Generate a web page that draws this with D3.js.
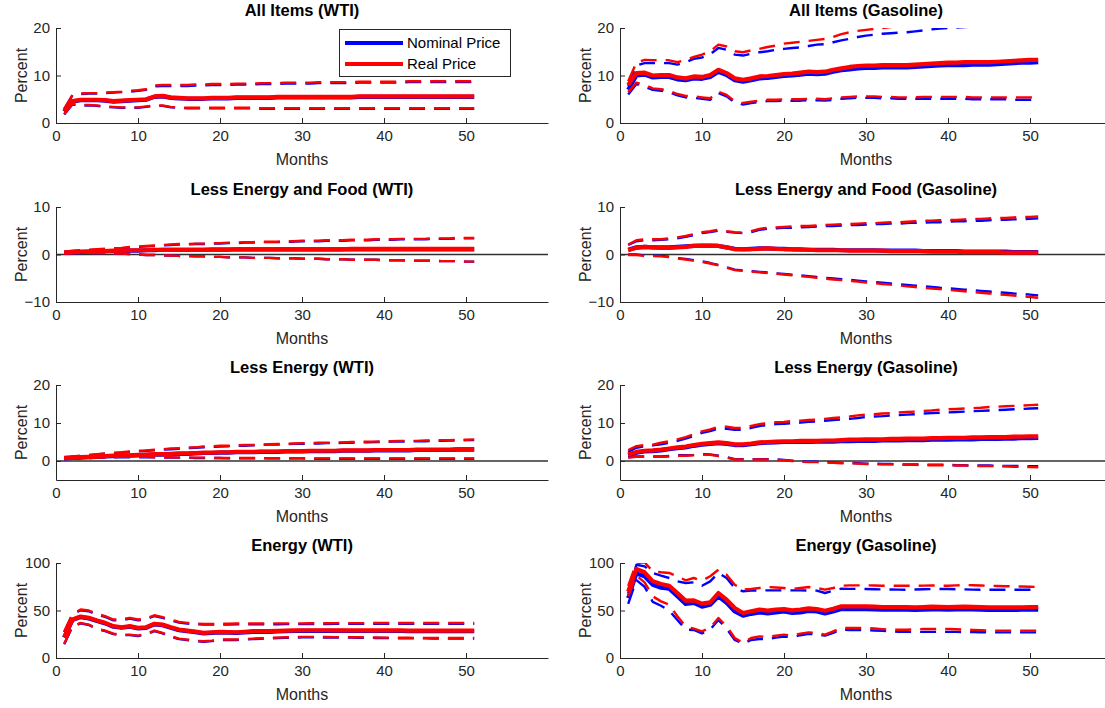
<!DOCTYPE html>
<html>
<head>
<meta charset="utf-8">
<script src="https://cdn.jsdelivr.net/npm/d3@7"></script>
<style>
  html, body { margin: 0; padding: 0; background: #fff; }
  svg { display: block; font-family: "Liberation Sans", Arial, Helvetica, sans-serif; }
</style>
</head>
<body>
<svg id="chart" width="1105" height="708"></svg>
<script>
// Horizon in months (impulse responses run from month 1 to 51)
const months = d3.range(1, 52);
const xTicks = [0, 10, 20, 30, 40, 50];

// ---- All Items (WTI) ----
const aiWtiNomMid = [2.4,4.5,4.8,4.8,4.8,4.7,4.5,4.6,4.7,4.8, 4.9,5.5,5.6,5.3,5.2,5.1,5.1,5.1,5.2,5.2, 5.2,5.3,5.3,5.3,5.3,5.3,5.4,5.4,5.4,5.4, 5.4,5.4,5.4,5.4,5.4,5.4,5.5,5.5,5.5,5.5, 5.5,5.5,5.5,5.5,5.5,5.5,5.5,5.5,5.5,5.5,5.5];
const aiWtiNomLo  = [1.8,3.9,3.7,3.7,3.6,3.4,3.3,3.2,3.2,3.2, 3.4,3.6,3.6,3.3,3.2,3.1,3.1,3.1,3.1,3.1, 3.1,3.1,3.1,3.1,3.0,3.0,3.0,3.0,3.0,3.0, 3.0,3.0,3.0,3.0,3.0,3.0,3.0,3.0,3.0,3.0, 3.0,3.0,3.0,3.0,3.0,3.0,3.0,3.0,3.0,3.0,3.0];
const aiWtiNomHi  = [2.9,5.8,6.1,6.2,6.2,6.3,6.4,6.5,6.6,6.8, 7.0,7.7,7.8,7.8,7.8,7.8,7.9,7.9,8.0,8.0, 8.0,8.1,8.1,8.1,8.2,8.2,8.2,8.3,8.3,8.3, 8.3,8.4,8.4,8.4,8.4,8.4,8.5,8.5,8.5,8.5, 8.5,8.5,8.6,8.6,8.6,8.6,8.6,8.6,8.6,8.6,8.6];
const aiWtiRealMid = [2.5,4.6,4.9,4.9,4.9,4.8,4.6,4.7,4.8,4.9, 5.0,5.6,5.7,5.4,5.3,5.2,5.2,5.2,5.3,5.3, 5.3,5.4,5.4,5.4,5.4,5.4,5.5,5.5,5.5,5.5, 5.5,5.5,5.5,5.5,5.5,5.5,5.6,5.6,5.6,5.6, 5.6,5.6,5.6,5.6,5.6,5.6,5.6,5.6,5.6,5.6,5.6];
const aiWtiRealLo  = [1.9,4.0,3.8,3.8,3.7,3.5,3.4,3.3,3.3,3.3, 3.5,3.7,3.7,3.4,3.3,3.2,3.2,3.2,3.2,3.2, 3.2,3.2,3.2,3.2,3.1,3.1,3.1,3.1,3.1,3.1, 3.1,3.1,3.1,3.1,3.1,3.1,3.1,3.1,3.1,3.1, 3.1,3.1,3.1,3.1,3.1,3.1,3.1,3.1,3.1,3.1,3.1];
const aiWtiRealHi  = [3.0,5.9,6.2,6.3,6.3,6.4,6.5,6.6,6.8,6.9, 7.1,7.9,8.0,8.0,8.0,8.0,8.1,8.1,8.2,8.2, 8.2,8.3,8.3,8.3,8.4,8.4,8.4,8.5,8.5,8.5, 8.5,8.6,8.6,8.6,8.6,8.6,8.7,8.7,8.7,8.7, 8.7,8.7,8.8,8.8,8.8,8.8,8.8,8.8,8.8,8.8,8.8];

// ---- All Items (Gasoline) ----
const aiGasNomMid = [7.0,10.0,10.2,9.6,9.7,9.7,9.2,9.0,9.4,9.3, 9.7,10.8,10.1,9.0,8.7,9.0,9.4,9.5,9.7,9.9, 10.0,10.2,10.4,10.3,10.4,10.8,11.1,11.3,11.5,11.6, 11.6,11.7,11.7,11.7,11.7,11.8,11.9,12.0,12.1,12.2, 12.2,12.2,12.3,12.3,12.3,12.4,12.5,12.6,12.7,12.7,12.8];
const aiGasNomLo  = [6.0,8.2,7.6,7.0,6.8,6.5,5.8,5.4,5.3,5.1, 4.9,6.3,5.6,4.3,3.9,4.2,4.4,4.6,4.6,4.7, 4.7,4.7,4.8,4.8,4.7,4.9,5.1,5.2,5.3,5.3, 5.3,5.2,5.2,5.1,5.1,5.1,5.1,5.1,5.1,5.1, 5.1,5.1,5.0,5.0,5.0,5.0,5.0,4.9,4.9,4.9,4.9];
const aiGasNomHi  = [7.8,12.1,12.6,12.6,12.6,12.6,12.3,12.8,13.5,13.8, 14.5,15.8,15.4,14.4,14.2,14.6,14.9,15.1,15.4,15.6, 15.8,15.9,16.2,16.5,16.6,17.0,17.4,17.7,18.1,18.4, 18.6,18.8,18.9,19.0,19.1,19.3,19.5,19.7,19.9,20.0, 20.1,20.2,20.3,20.4,20.5,20.6,20.7,20.8,20.9,21.0,21.1];
const aiGasRealMid = [8.0,10.5,10.6,10.0,10.1,10.1,9.6,9.4,9.8,9.7, 10.1,11.2,10.5,9.4,9.1,9.4,9.8,9.9,10.1,10.3, 10.4,10.6,10.8,10.7,10.8,11.2,11.5,11.8,12.0,12.1, 12.1,12.2,12.2,12.2,12.2,12.3,12.4,12.5,12.6,12.7, 12.7,12.8,12.8,12.8,12.8,12.9,13.0,13.1,13.2,13.3,13.3];
const aiGasRealLo  = [6.5,8.5,8.0,7.3,7.1,6.8,6.1,5.7,5.6,5.4, 5.2,6.6,5.9,4.6,4.2,4.5,4.7,4.9,4.9,5.0, 5.0,5.0,5.1,5.1,5.0,5.2,5.4,5.5,5.6,5.6, 5.6,5.5,5.5,5.4,5.4,5.4,5.5,5.5,5.5,5.5, 5.5,5.5,5.4,5.4,5.4,5.4,5.4,5.4,5.4,5.4,5.4];
const aiGasRealHi  = [8.8,12.7,13.3,13.2,13.3,13.2,12.8,13.3,13.9,14.4, 15.1,16.5,16.1,15.1,14.9,15.3,15.6,16.0,16.3,16.7, 16.9,17.1,17.3,17.5,17.7,18.1,18.7,19.1,19.4,19.6, 19.8,20.0,20.2,20.4,20.5,20.7,20.8,21.0,21.1,21.2, 21.3,21.4,21.5,21.6,21.7,21.8,21.9,22.0,22.1,22.2,22.3];

// ---- Less Energy and Food (WTI) ----
const lefWtiNomMid = [0.4,0.5,0.5,0.6,0.6,0.7,0.7,0.8,0.8,0.8, 0.9,0.9,1.0,1.0,1.0,1.0,1.0,1.0,1.0,1.0, 1.0,1.1,1.1,1.1,1.1,1.1,1.1,1.1,1.1,1.1, 1.1,1.1,1.1,1.1,1.1,1.1,1.1,1.1,1.1,1.1, 1.1,1.1,1.1,1.1,1.1,1.1,1.1,1.1,1.1,1.1,1.1];
const lefWtiNomLo  = [0.2,0.3,0.3,0.3,0.3,0.3,0.2,0.2,0.1,0.0, -0.1,-0.1,-0.2,-0.2,-0.3,-0.3,-0.4,-0.4,-0.5,-0.5, -0.6,-0.6,-0.6,-0.7,-0.7,-0.7,-0.8,-0.8,-0.8,-0.9, -0.9,-0.9,-1.0,-1.0,-1.0,-1.1,-1.1,-1.1,-1.1,-1.2, -1.2,-1.2,-1.3,-1.3,-1.3,-1.3,-1.4,-1.4,-1.4,-1.5,-1.5];
const lefWtiNomHi  = [0.5,0.7,0.8,0.9,1.0,1.1,1.2,1.3,1.5,1.6, 1.7,1.8,1.9,2.0,2.1,2.1,2.2,2.2,2.3,2.3, 2.4,2.4,2.5,2.5,2.6,2.6,2.6,2.7,2.7,2.8, 2.8,2.8,2.9,2.9,2.9,3.0,3.0,3.0,3.1,3.1, 3.1,3.2,3.2,3.2,3.2,3.3,3.3,3.3,3.4,3.4,3.4];
const lefWtiRealMid = [0.4,0.5,0.6,0.6,0.7,0.7,0.8,0.8,0.9,0.9, 0.9,1.0,1.0,1.0,1.0,1.0,1.0,1.0,1.1,1.1, 1.1,1.1,1.1,1.1,1.1,1.1,1.1,1.1,1.1,1.1, 1.1,1.1,1.1,1.1,1.1,1.2,1.2,1.2,1.2,1.2, 1.2,1.2,1.2,1.2,1.2,1.2,1.2,1.2,1.2,1.2,1.2];
const lefWtiRealLo  = [0.2,0.3,0.3,0.3,0.3,0.3,0.2,0.2,0.1,0.0, -0.1,-0.1,-0.2,-0.2,-0.3,-0.3,-0.4,-0.4,-0.5,-0.5, -0.6,-0.6,-0.6,-0.7,-0.7,-0.7,-0.8,-0.8,-0.8,-0.9, -0.9,-0.9,-1.0,-1.0,-1.0,-1.1,-1.1,-1.1,-1.1,-1.2, -1.2,-1.2,-1.3,-1.3,-1.3,-1.3,-1.4,-1.4,-1.4,-1.5,-1.5];
const lefWtiRealHi  = [0.6,0.8,0.9,1.0,1.1,1.2,1.3,1.4,1.6,1.7, 1.8,1.9,2.0,2.1,2.2,2.2,2.3,2.3,2.4,2.4, 2.5,2.5,2.6,2.6,2.7,2.7,2.7,2.8,2.8,2.9, 2.9,2.9,3.0,3.0,3.0,3.1,3.1,3.1,3.2,3.2, 3.2,3.3,3.3,3.3,3.3,3.4,3.4,3.4,3.5,3.5,3.5];

// ---- Less Energy and Food (Gasoline) ----
const lefGasNomMid = [1.0,1.5,1.6,1.5,1.5,1.5,1.6,1.7,1.8,1.9, 1.9,1.8,1.5,1.2,1.1,1.2,1.3,1.3,1.2,1.2, 1.1,1.1,1.0,1.0,1.0,1.0,0.9,0.9,0.9,0.9, 0.9,0.8,0.8,0.8,0.8,0.8,0.7,0.7,0.7,0.7, 0.7,0.6,0.6,0.6,0.6,0.6,0.6,0.5,0.5,0.5,0.5];
const lefGasNomLo  = [0.0,0.0,-0.2,-0.25,-0.3,-0.45,-0.75,-0.95,-1.2,-1.45, -1.8,-2.2,-2.7,-3.2,-3.35,-3.5,-3.65,-3.8,-3.95,-4.1, -4.25,-4.4,-4.55,-4.75,-4.9,-5.05,-5.2,-5.35,-5.5,-5.65, -5.8,-5.95,-6.1,-6.25,-6.4,-6.55,-6.7,-6.85,-7.0,-7.1, -7.25,-7.4,-7.5,-7.65,-7.8,-7.95,-8.05,-8.2,-8.3,-8.45,-8.6];
const lefGasNomHi  = [2.0,2.8,3.0,3.0,3.1,3.2,3.4,3.7,4.1,4.5, 4.7,5.0,4.8,4.6,4.5,4.7,5.2,5.4,5.5,5.6, 5.6,5.7,5.8,5.9,6.0,6.0,6.1,6.2,6.2,6.3, 6.4,6.4,6.5,6.5,6.6,6.7,6.7,6.8,6.8,6.9, 7.0,7.0,7.1,7.1,7.2,7.3,7.3,7.4,7.4,7.5,7.6];
const lefGasRealMid = [0.9,1.4,1.6,1.5,1.4,1.4,1.5,1.6,1.8,1.8, 1.8,1.8,1.5,1.1,1.1,1.1,1.2,1.3,1.2,1.1, 1.1,1.0,1.0,0.9,0.9,0.9,0.9,0.8,0.8,0.8, 0.8,0.8,0.7,0.7,0.7,0.7,0.7,0.6,0.6,0.6, 0.6,0.5,0.5,0.5,0.5,0.5,0.4,0.4,0.4,0.4,0.4];
const lefGasRealLo  = [-0.1,-0.1,-0.3,-0.35,-0.4,-0.55,-0.85,-1.05,-1.3,-1.55, -1.9,-2.3,-2.8,-3.3,-3.45,-3.6,-3.75,-3.9,-4.05,-4.2, -4.4,-4.55,-4.7,-4.9,-5.1,-5.25,-5.4,-5.55,-5.7,-5.9, -6.05,-6.2,-6.35,-6.5,-6.7,-6.85,-7.0,-7.15,-7.3,-7.45, -7.6,-7.75,-7.9,-8.05,-8.2,-8.35,-8.5,-8.65,-8.8,-8.95,-9.1];
const lefGasRealHi  = [2.1,3.0,3.2,3.2,3.2,3.4,3.6,3.9,4.3,4.7, 4.9,5.2,4.9,4.7,4.6,4.9,5.4,5.6,5.7,5.8, 5.9,6.0,6.0,6.1,6.2,6.3,6.4,6.4,6.5,6.6, 6.6,6.7,6.8,6.8,6.9,7.0,7.1,7.1,7.2,7.3, 7.3,7.4,7.5,7.5,7.6,7.7,7.7,7.8,7.9,7.9,8.0];

// ---- Less Energy (WTI) ----
const leWtiNomMid = [0.7,0.8,0.9,1.0,1.1,1.2,1.3,1.4,1.4,1.5, 1.6,1.7,1.7,1.8,1.9,1.9,2.0,2.1,2.1,2.2, 2.2,2.3,2.3,2.3,2.4,2.4,2.4,2.5,2.5,2.5, 2.6,2.6,2.6,2.6,2.7,2.7,2.7,2.7,2.8,2.8, 2.8,2.8,2.8,2.9,2.9,2.9,2.9,2.9,3.0,3.0,3.0];
const leWtiNomLo  = [0.5,0.6,0.7,0.8,0.9,0.9,1.0,1.0,1.0,1.0, 1.0,1.0,0.9,0.9,0.9,0.9,0.8,0.8,0.8,0.8, 0.7,0.7,0.7,0.7,0.7,0.7,0.7,0.7,0.7,0.7, 0.6,0.6,0.6,0.6,0.6,0.6,0.6,0.6,0.6,0.6, 0.6,0.6,0.6,0.6,0.6,0.6,0.6,0.6,0.6,0.6,0.6];
const leWtiNomHi  = [0.9,1.1,1.3,1.5,1.7,1.9,2.0,2.2,2.4,2.5, 2.7,2.8,3.0,3.1,3.2,3.4,3.5,3.6,3.7,3.8, 3.9,4.0,4.0,4.1,4.2,4.3,4.3,4.4,4.5,4.5, 4.6,4.6,4.7,4.7,4.8,4.8,4.9,4.9,5.0,5.0, 5.1,5.1,5.1,5.2,5.2,5.3,5.3,5.4,5.4,5.5,5.5];
const leWtiRealMid = [0.8,0.9,1.0,1.1,1.2,1.3,1.4,1.5,1.5,1.6, 1.7,1.8,1.8,1.9,2.0,2.0,2.1,2.2,2.2,2.3, 2.3,2.4,2.4,2.4,2.5,2.5,2.5,2.6,2.6,2.6, 2.7,2.7,2.7,2.7,2.8,2.8,2.8,2.8,2.9,2.9, 2.9,2.9,2.9,3.0,3.0,3.0,3.0,3.0,3.1,3.1,3.1];
const leWtiRealLo  = [0.5,0.6,0.7,0.8,0.9,1.0,1.0,1.1,1.1,1.1, 1.1,1.0,1.0,1.0,0.9,0.9,0.9,0.9,0.8,0.8, 0.8,0.8,0.8,0.8,0.8,0.7,0.7,0.7,0.7,0.7, 0.7,0.7,0.7,0.7,0.7,0.7,0.7,0.7,0.7,0.7, 0.7,0.7,0.7,0.7,0.7,0.7,0.7,0.7,0.7,0.7,0.7];
const leWtiRealHi  = [1.0,1.2,1.4,1.6,1.8,2.0,2.2,2.3,2.5,2.7, 2.8,3.0,3.1,3.3,3.4,3.5,3.6,3.8,3.9,4.0, 4.0,4.1,4.2,4.2,4.3,4.4,4.5,4.5,4.6,4.7, 4.7,4.8,4.8,4.9,4.9,5.0,5.0,5.1,5.1,5.2, 5.2,5.3,5.3,5.3,5.4,5.4,5.5,5.5,5.6,5.6,5.7];

// ---- Less Energy (Gasoline) ----
const leGasNomMid = [1.5,2.2,2.5,2.6,2.8,3.1,3.4,3.6,4.0,4.3, 4.5,4.7,4.5,4.2,4.2,4.4,4.7,4.8,4.9,5.0, 5.0,5.0,5.0,5.1,5.1,5.1,5.2,5.2,5.3,5.3, 5.3,5.4,5.4,5.4,5.5,5.5,5.5,5.6,5.6,5.6, 5.7,5.7,5.7,5.8,5.8,5.8,5.9,5.9,6.0,6.0,6.1];
const leGasNomLo  = [1.0,1.2,1.2,1.2,1.2,1.3,1.5,1.5,1.6,1.8, 1.7,1.4,1.0,0.5,0.5,0.5,0.5,0.5,0.4,0.3, 0.1,-0.1,-0.2,-0.2,-0.3,-0.4,-0.5,-0.5,-0.6,-0.7, -0.7,-0.8,-0.8,-0.9,-0.9,-0.9,-1.0,-1.0,-1.0,-1.0, -1.1,-1.1,-1.2,-1.2,-1.2,-1.3,-1.3,-1.3,-1.3,-1.4,-1.4];
const leGasNomHi  = [2.4,3.5,3.9,4.1,4.4,4.8,5.3,5.9,6.6,7.4, 7.9,8.5,8.5,8.2,8.2,8.7,9.2,9.5,9.7,9.8, 10.0,10.1,10.3,10.4,10.6,10.8,10.9,11.1,11.3,11.6, 11.7,11.8,12.0,12.1,12.2,12.3,12.5,12.6,12.7,12.8, 12.9,13.0,13.1,13.2,13.3,13.4,13.5,13.6,13.7,13.8,13.9];
const leGasRealMid = [1.7,2.4,2.7,2.8,3.0,3.3,3.6,3.8,4.2,4.5, 4.7,4.9,4.7,4.4,4.4,4.6,4.9,5.0,5.1,5.2, 5.2,5.3,5.3,5.3,5.4,5.4,5.5,5.6,5.6,5.7, 5.7,5.7,5.8,5.8,5.9,5.9,5.9,6.0,6.0,6.1, 6.1,6.1,6.2,6.2,6.3,6.3,6.3,6.4,6.4,6.5,6.5];
const leGasRealLo  = [0.9,1.1,1.1,1.1,1.1,1.2,1.4,1.4,1.5,1.7, 1.6,1.3,0.9,0.4,0.4,0.4,0.4,0.4,0.3,0.2, 0.0,-0.2,-0.3,-0.3,-0.4,-0.5,-0.6,-0.6,-0.7,-0.8, -0.8,-0.9,-0.9,-1.0,-1.0,-1.0,-1.1,-1.1,-1.1,-1.1, -1.2,-1.2,-1.3,-1.3,-1.3,-1.4,-1.4,-1.5,-1.5,-1.6,-1.65];
const leGasRealHi  = [2.9,3.9,4.2,4.3,4.8,5.2,5.7,6.3,7.0,7.8, 8.3,9.0,9.0,8.7,8.7,9.2,9.7,10.0,10.2,10.3, 10.5,10.6,10.8,10.9,11.1,11.3,11.5,11.7,12.0,12.2, 12.3,12.5,12.6,12.8,12.9,13.0,13.2,13.3,13.5,13.6, 13.7,13.8,13.9,14.0,14.2,14.3,14.4,14.5,14.6,14.7,14.8];

// ---- Energy (WTI) ----
const enWtiNomMid = [21.4,39.9,43.1,41.7,38.9,36.4,32.9,31.8,32.9,31.1, 31.8,35.4,34.6,31.8,29.3,28.3,27.2,25.8,26.5,26.9, 26.7,26.5,27.0,27.6,27.6,27.6,27.9,28.3,28.4,28.6, 28.6,28.6,28.6,28.5,28.5,28.4,28.4,28.4,28.4,28.4, 28.4,28.4,28.3,28.3,28.3,28.3,28.3,28.3,28.2,28.2,28.2];
const enWtiNomLo  = [14.5,33.0,36.5,34.7,30.5,28.4,25.2,24.1,24.1,23.1, 24.8,28.4,25.9,22.4,19.9,18.9,17.8,17.1,17.8,18.9, 18.9,18.9,19.4,19.9,20.3,20.6,21.0,21.3,21.5,21.7, 21.7,21.7,21.6,21.5,21.5,21.4,21.3,21.2,21.1,21.0, 20.9,20.8,20.8,20.7,20.7,20.6,20.6,20.5,20.5,20.5,20.5];
const enWtiNomHi  = [27.2,45.7,50.2,49.2,45.7,43.2,39.7,39.7,41.5,39.7, 40.7,44.2,42.2,39.7,37.2,36.2,35.6,35.1,35.1,35.1, 35.3,35.5,35.5,35.5,35.5,35.6,35.6,35.7,35.7,35.7, 35.8,35.8,35.8,35.9,35.9,35.9,35.9,36.0,36.0,36.0, 36.0,36.0,36.0,36.0,36.0,36.0,36.0,36.0,36.0,36.0,36.0];
const enWtiRealMid = [22.0,40.5,43.7,42.3,39.5,37.0,33.5,32.4,33.5,31.7, 32.4,36.0,35.2,32.4,29.9,28.9,27.8,26.4,27.1,27.5, 27.3,27.1,27.6,28.2,28.2,28.2,28.5,28.9,29.0,29.2, 29.2,29.2,29.2,29.1,29.1,29.0,29.0,29.0,29.0,29.0, 29.0,29.0,28.9,28.9,28.9,28.9,28.9,28.9,28.8,28.8,28.8];
const enWtiRealLo  = [15.0,33.5,37.0,35.2,31.0,28.9,25.7,24.6,24.6,23.6, 25.3,28.9,26.4,22.9,20.4,19.4,18.3,17.6,18.3,19.4, 19.4,19.4,19.9,20.4,20.8,21.1,21.5,21.8,22.0,22.2, 22.2,22.2,22.1,22.0,22.0,21.9,21.8,21.7,21.6,21.5, 21.4,21.3,21.3,21.2,21.2,21.1,21.1,21.0,21.0,21.0,21.0];
const enWtiRealHi  = [28.0,46.5,51.0,50.0,46.5,44.0,40.5,40.5,42.3,40.5, 41.5,45.0,43.0,40.5,38.0,37.0,36.4,35.9,35.9,35.9, 36.1,36.3,36.3,36.3,36.3,36.4,36.4,36.5,36.5,36.5, 36.6,36.6,36.6,36.7,36.7,36.7,36.7,36.8,36.8,36.8, 36.8,36.8,36.8,36.8,36.8,36.8,36.8,36.8,36.8,36.8,36.8];

// ---- Energy (Gasoline) ----
const enGasNomMid = [63,89,86,77,74,73,65,57,58,54, 56,65,58,49,44.5,46.5,48,47,48,49, 47.5,48,49.5,49,47,49,51.5,51.5,51.5,51.5, 51.2,51.0,51.0,51.0,50.8,50.6,50.9,51.2,51.1,51.0, 51.1,51.2,51.1,50.8,50.7,50.6,50.6,50.7,50.8,50.9,51.0];
const enGasNomLo  = [57,82,75,59,55,50,40,30,29.5,26, 30,40,31,19,15,19,20,20,21.5,22.5, 22,24,25.5,25,23.5,26.5,30,29.5,29.5,29.5, 29,28.5,28,27.5,27.5,27.5,27.5,27.5,27.5,27.5, 27.5,27.3,27.2,27.1,27,27,27,27,27,27,27];
const enGasNomHi  = [68,98.2,96.5,89.5,86.7,84.2,80.7,79,79.6,76.1, 80.7,89.5,84.2,73.7,70.2,70.9,71.2,71.2,71.2,71.2, 71.2,71.2,71.0,70.9,68.4,70.9,73.0,72.8,72.7,72.6, 72.4,72.2,72.1,72.0,71.9,72.1,72.3,72.5,72.6,72.6, 72.4,72.2,72.0,71.9,71.9,71.9,71.9,71.9,71.9,71.9,71.9];
const enGasRealMid = [70,93.7,90.2,80.7,77.9,76.1,68.4,60.4,60.7,57.2, 58.6,68.4,61.4,52.6,47.4,49.1,50.9,49.8,50.9,51.6, 50.2,50.9,52.3,51.6,49.8,51.9,54.4,54.4,54.4,54.4, 54.0,53.7,53.7,53.7,53.5,53.3,53.6,54.0,53.8,53.7, 53.8,54.0,53.8,53.5,53.3,53.2,53.2,53.3,53.4,53.6,53.7];
const enGasRealLo  = [65,86.7,79.6,64.9,59.6,56.1,43.9,33.3,30.9,28.1, 31.6,42.1,33.3,21.1,15.8,21.1,22.8,22.1,23.5,24.6, 23.5,25.6,27.0,26.3,24.6,28.1,31.6,31.6,31.6,31.6, 31.0,30.4,29.8,29.8,29.8,30.2,30.5,30.5,30.5,30.5, 30.2,29.8,29.6,29.3,28.8,28.8,28.8,28.8,28.8,28.8,28.8];
const enGasRealHi  = [76,100,100.7,91.2,90.2,89.5,86,81.8,84.2,81.4, 86,93,87.7,77.2,71.9,72.6,73.7,74.7,74.2,73.7, 72.6,73.7,74.7,73.7,71.9,73.7,76.1,76.5,76.5,76.5, 76.3,76.1,76.1,76.1,76.0,76.0,76.2,76.4,76.2,76.0, 76.4,76.8,76.6,76.3,76.0,75.8,75.6,75.4,75.2,75.0,74.7];

// Panel titles and y-axis settings
const panelTitles = [
  "All Items (WTI)", "All Items (Gasoline)",
  "Less Energy and Food (WTI)", "Less Energy and Food (Gasoline)",
  "Less Energy (WTI)", "Less Energy (Gasoline)",
  "Energy (WTI)", "Energy (Gasoline)"
];
const yDomains = [[0,20],[0,20],[-10,10],[-10,10],[-5,20],[-5,20],[0,100],[0,100]];
const yTickLabels = [[0,10,20],[0,10,20],[-10,0,10],[-10,0,10],[0,10,20],[0,10,20],[0,50,100],[0,50,100]];
const seriesNames = ["Nominal Price", "Real Price"];

const panelData = [
  [aiWtiNomMid, aiWtiNomLo, aiWtiNomHi, aiWtiRealMid, aiWtiRealLo, aiWtiRealHi],
  [aiGasNomMid, aiGasNomLo, aiGasNomHi, aiGasRealMid, aiGasRealLo, aiGasRealHi],
  [lefWtiNomMid, lefWtiNomLo, lefWtiNomHi, lefWtiRealMid, lefWtiRealLo, lefWtiRealHi],
  [lefGasNomMid, lefGasNomLo, lefGasNomHi, lefGasRealMid, lefGasRealLo, lefGasRealHi],
  [leWtiNomMid, leWtiNomLo, leWtiNomHi, leWtiRealMid, leWtiRealLo, leWtiRealHi],
  [leGasNomMid, leGasNomLo, leGasNomHi, leGasRealMid, leGasRealLo, leGasRealHi],
  [enWtiNomMid, enWtiNomLo, enWtiNomHi, enWtiRealMid, enWtiRealLo, enWtiRealHi],
  [enGasNomMid, enGasNomLo, enGasNomHi, enGasRealMid, enGasRealLo, enGasRealHi]
];

// ---- layout ----
const colX = [[56, 548], [620, 1112]];
const rowY = [[28, 123], [207, 302], [385, 480], [563, 658]];
const BLUE = "#0000ff", RED = "#ff0000", AXIS = "#262626";
const DASH = "16,9";

const svg = d3.select("#chart");
const defs = svg.append("defs");

panelTitles.forEach((title, i) => {
  const col = i % 2, row = Math.floor(i / 2);
  const [x0, x1] = colX[col];
  const [yTop, yBot] = rowY[row];
  const x = d3.scaleLinear().domain([0, 60]).range([x0, x1]);
  const y = d3.scaleLinear().domain(yDomains[i]).range([yBot, yTop]);
  const g = svg.append("g").attr("class", "panel");

  const clipId = "clip" + i;
  defs.append("clipPath").attr("id", clipId)
    .append("rect").attr("x", x0).attr("y", yTop).attr("width", x1 - x0).attr("height", yBot - yTop);

  // zero reference line
  if (yDomains[i][0] < 0) {
    g.append("line")
      .attr("x1", x(0)).attr("x2", x(60)).attr("y1", y(0)).attr("y2", y(0))
      .attr("stroke", "#303030").attr("stroke-width", 1.6);
  }

  const line = d3.line().x((d, k) => x(months[k])).y(d => y(d));
  const plot = g.append("g").attr("clip-path", `url(#${clipId})`);
  const [nMid, nLo, nHi, rMid, rLo, rHi] = panelData[i];
  const series = [
    { v: nLo, c: BLUE, w: 2.4, dash: true },
    { v: nHi, c: BLUE, w: 2.4, dash: true },
    { v: nMid, c: BLUE, w: 4.2, dash: false },
    { v: rLo, c: RED, w: 2.4, dash: true },
    { v: rHi, c: RED, w: 2.4, dash: true },
    { v: rMid, c: RED, w: 4.2, dash: false }
  ];
  series.forEach(s => {
    plot.append("path").datum(s.v)
      .attr("d", line)
      .attr("fill", "none")
      .attr("stroke", s.c)
      .attr("stroke-width", s.w)
      .attr("stroke-linejoin", "round")
      .attr("stroke-dasharray", s.dash ? DASH : null);
  });

  // axes (inward ticks, left and bottom only)
  const xAxis = d3.axisBottom(x).tickValues(xTicks).tickSizeInner(-5).tickSizeOuter(0).tickPadding(7);
  const yAxis = d3.axisLeft(y).tickValues(yTickLabels[i]).tickSizeInner(-5).tickSizeOuter(0).tickPadding(6);
  const gx = g.append("g").attr("transform", `translate(0,${yBot})`).call(xAxis);
  const gy = g.append("g").attr("transform", `translate(${x0},0)`).call(yAxis);
  [gx, gy].forEach(a => {
    a.select(".domain").attr("stroke", AXIS).attr("stroke-width", 1);
    a.selectAll(".tick line").attr("stroke", AXIS);
    a.selectAll(".tick text").attr("fill", AXIS).style("font-size", "15px");
  });

  // title and axis labels
  g.append("text")
    .attr("x", (x0 + x1) / 2).attr("y", yTop - 12)
    .attr("text-anchor", "middle")
    .style("font-size", "16.5px").style("font-weight", "bold").attr("fill", "#000")
    .text(title);
  g.append("text")
    .attr("x", (x0 + x1) / 2).attr("y", yBot + 42)
    .attr("text-anchor", "middle")
    .style("font-size", "16px").attr("fill", AXIS)
    .text("Months");
  g.append("text")
    .attr("transform", `translate(${x0 - 29},${(yTop + yBot) / 2}) rotate(-90)`)
    .attr("text-anchor", "middle")
    .style("font-size", "16px").attr("fill", AXIS)
    .text("Percent");

  // legend in the first panel
  if (i === 0) {
    const lg = g.append("g");
    lg.append("rect").attr("x", 339.5).attr("y", 29.5).attr("width", 171).attr("height", 47)
      .attr("fill", "#fff").attr("stroke", AXIS).attr("stroke-width", 1);
    [BLUE, RED].forEach((c, k) => {
      const ly = 43 + k * 21;
      lg.append("line").attr("x1", 345).attr("x2", 403).attr("y1", ly).attr("y2", ly)
        .attr("stroke", c).attr("stroke-width", 4.2);
      lg.append("text").attr("x", 407).attr("y", ly + 5)
        .style("font-size", "15px").attr("fill", "#000")
        .text(seriesNames[k]);
    });
  }
});
</script>
</body>
</html>
